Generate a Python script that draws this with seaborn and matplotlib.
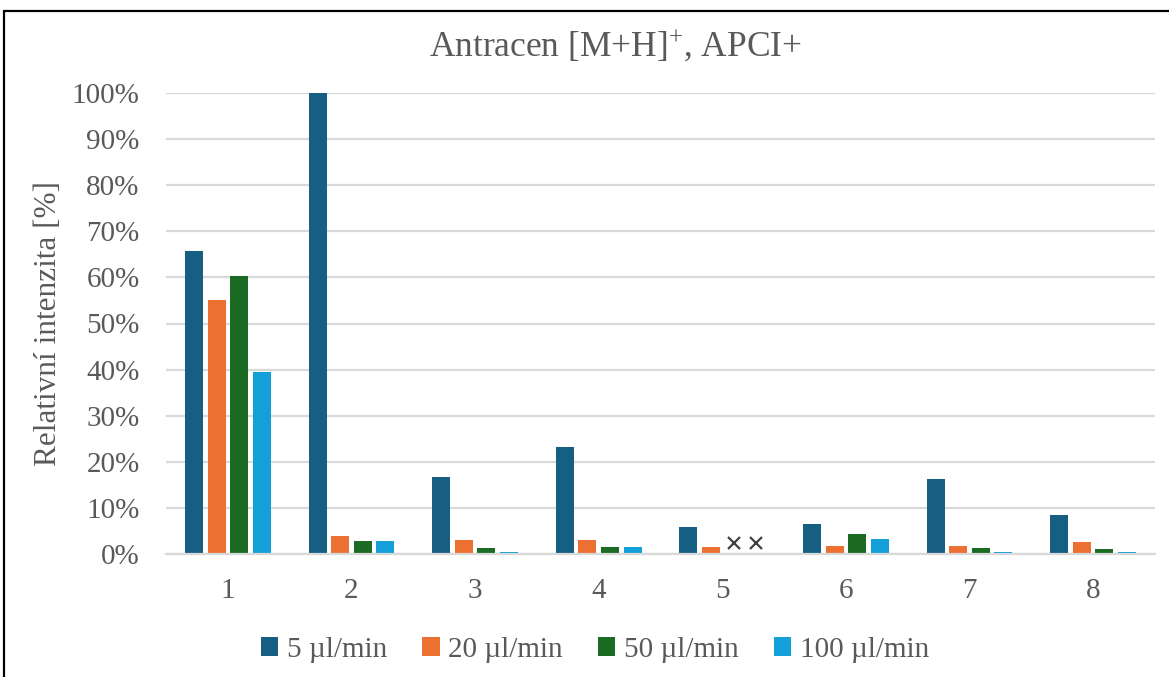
import numpy as np
import pandas as pd
import matplotlib
matplotlib.use("Agg")
import matplotlib.pyplot as plt
import seaborn as sns
from matplotlib.patches import Rectangle
from matplotlib.ticker import FuncFormatter

# Relative intensity of anthracene [M+H]+ (APCI+) per sample, for four flow rates
samples = ["1", "2", "3", "4", "5", "6", "7", "8"]
flow_labels = ["5 µl/min", "20 µl/min", "50 µl/min", "100 µl/min"]
flow_5 = [65.8, 100.0, 16.8, 23.3, 5.9, 6.4, 16.3, 8.4]
flow_20 = [55.1, 3.9, 3.1, 3.1, 1.6, 1.7, 1.7, 2.5]
flow_50 = [60.2, 2.8, 1.3, 1.6, np.nan, 4.4, 1.3, 1.1]
flow_100 = [39.4, 2.8, 0.5, 1.6, np.nan, 3.3, 0.4, 0.4]
y_ticks = list(range(0, 101, 10))

colors = ["#175E83", "#EC7032", "#1C6B24", "#139FD7"]
text_color = "#595959"
grid_color = "#D9D9D9"

sns.set_theme(style="white")
plt.rcParams["font.family"] = ["Liberation Serif", "DejaVu Serif"]
plt.rcParams["mathtext.fontset"] = "custom"
plt.rcParams["mathtext.rm"] = "Liberation Serif"
plt.rcParams["mathtext.it"] = "Liberation Serif"

rows = []
for label, values in zip(flow_labels, [flow_5, flow_20, flow_50, flow_100]):
    for s, v in zip(samples, values):
        rows.append({"sample": s, "flow": label, "value": v})
df = pd.DataFrame(rows)

fig = plt.figure(figsize=(11.69, 6.77), dpi=100)
ax = fig.add_axes([166 / 1169, 1 - 554 / 677, (1155 - 166) / 1169, (554 - 93) / 677])

bar_width = 0.73
sns.barplot(data=df.dropna(), x="sample", y="value", hue="flow",
            order=samples, hue_order=flow_labels, palette=colors,
            width=bar_width, gap=0.2, saturation=1, ax=ax,
            linewidth=0, legend=True)

# Mark samples where a flow rate gave no measurement
n = len(flow_labels)
series = [flow_5, flow_20, flow_50, flow_100]
for j, vals in enumerate(series):
    offset = -bar_width / 2 + (j + 0.5) * bar_width / n
    for i, v in enumerate(vals):
        if np.isnan(v):
            ax.plot(i + offset, 2.4, marker="x", color="#404040",
                    markersize=8, markeredgewidth=1.6, zorder=5)

ax.set_ylim(0, 100)
ax.set_xlim(-0.5, len(samples) - 0.5)
ax.set_yticks(y_ticks)
ax.yaxis.set_major_formatter(FuncFormatter(lambda v, p: f"{int(v)}%"))
ax.yaxis.grid(True, color=grid_color, linewidth=1.6)
ax.set_axisbelow(True)
for side in ["top", "right", "left"]:
    ax.spines[side].set_visible(False)
ax.spines["bottom"].set_color(grid_color)
ax.spines["bottom"].set_linewidth(1.6)
ax.tick_params(axis="both", length=0, labelsize=21, colors=text_color)
ax.tick_params(axis="y", pad=19)
ax.tick_params(axis="x", pad=17)
ax.set_xlabel("")
ax.set_ylabel("Relativní intenzita [%]", fontsize=22.5, color=text_color, labelpad=6)

fig.text(615 / 1169, 1 - 46 / 677, r"Antracen [M+H]$^{+}$, APCI+",
         ha="center", va="center", fontsize=25.5, color=text_color)

handles, labels = ax.get_legend_handles_labels()
ax.get_legend().remove()
leg = fig.legend(handles, labels, loc="center", bbox_to_anchor=(595 / 1169, 1 - 650 / 677),
                 ncol=4, frameon=False, fontsize=21, handlelength=0.6, handleheight=0.6,
                 handletextpad=0.3, columnspacing=1.2, labelcolor=text_color)

# Chart frame
fig.patches.append(Rectangle((4 / 1169, -0.1), 1.2, 1 - 11 / 677 + 0.1,
                             transform=fig.transFigure, fill=False,
                             edgecolor="black", linewidth=1.6))

fig.savefig("out.png", dpi=100)
